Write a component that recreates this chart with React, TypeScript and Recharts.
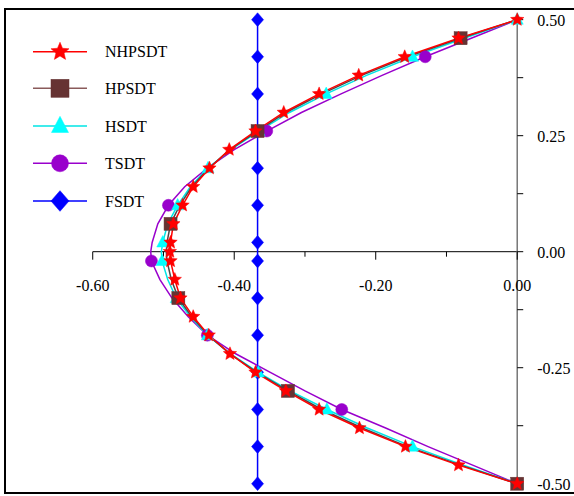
import React from 'react';
import {
  ScatterChart,
  Scatter,
  XAxis,
  YAxis,
  ReferenceLine,
  ReferenceDot,
  ReferenceArea,
} from 'recharts';

// thickness coordinate (vertical axis)
const Z = [
  0.5, 0.46, 0.42, 0.38, 0.34, 0.3, 0.26, 0.22, 0.18, 0.14, 0.1, 0.06, 0.02, 0,
  -0.02, -0.06, -0.1, -0.14, -0.18, -0.22, -0.26, -0.3, -0.34, -0.38, -0.42, -0.46, -0.5,
];

const NHPSDT = [
  0, -0.083, -0.159, -0.224, -0.28, -0.33, -0.37, -0.407, -0.435, -0.458, -0.473, -0.486, -0.49, -0.491,
  -0.49, -0.484, -0.476, -0.458, -0.436, -0.406, -0.37, -0.327, -0.28, -0.223, -0.158, -0.083, 0,
];
const HPSDT = [
  0, -0.08, -0.155, -0.22, -0.276, -0.327, -0.367, -0.406, -0.436, -0.46, -0.477, -0.49, -0.495, -0.496,
  -0.495, -0.489, -0.479, -0.46, -0.437, -0.406, -0.368, -0.324, -0.276, -0.219, -0.155, -0.08, 0,
];
const HSDT = [
  0, -0.075, -0.148, -0.213, -0.27, -0.322, -0.365, -0.405, -0.437, -0.462, -0.48, -0.494, -0.501, -0.503,
  -0.502, -0.494, -0.482, -0.462, -0.438, -0.405, -0.366, -0.321, -0.269, -0.212, -0.148, -0.076, 0,
];
const TSDT = [
  0, -0.065, -0.13, -0.191, -0.249, -0.305, -0.354, -0.4, -0.438, -0.47, -0.493, -0.508, -0.516, -0.518,
  -0.517, -0.505, -0.488, -0.465, -0.438, -0.398, -0.349, -0.3, -0.248, -0.186, -0.126, -0.063, 0,
];
const FSDT = [
  -0.367, -0.367, -0.367, -0.367, -0.367, -0.367, -0.367, -0.367, -0.367, -0.367, -0.367, -0.367, -0.367, -0.367,
  -0.367, -0.367, -0.367, -0.367, -0.367, -0.367, -0.367, -0.367, -0.367, -0.367, -0.367, -0.367, -0.367,
];

// indices of data points that carry a marker
const NHPSDT_MARKS = [0, 1, 2, 3, 4, 5, 6, 7, 8, 9, 10, 11, 12, 13, 14, 15, 16, 17, 18, 19, 20, 21, 22, 23, 24, 25, 26];
const HPSDT_MARKS = [1, 6, 11, 16, 21, 26];
const HSDT_MARKS = [0, 2, 4, 6, 8, 10, 12, 14, 16, 18, 20, 22, 24, 26];
const TSDT_MARKS = [2, 6, 10, 14, 18, 22];
const FSDT_MARKS = [0, 2, 4, 6, 8, 10, 12, 14, 16, 18, 20, 22, 24, 26];

const X_TICKS = [-0.6, -0.4, -0.2, 0];
const X_TICK_LABELS = ['-0.60', '-0.40', '-0.20', '0.00'];
const X_MINOR = [-0.5, -0.3, -0.1];
const Y_TICKS = [0.5, 0.25, 0, -0.25, -0.5];
const Y_TICK_LABELS = ['0.50', '0.25', '0.00', '-0.25', '-0.50'];
const Y_MINOR = [0.375, 0.125, -0.125, -0.375];

const X_DOMAIN: [number, number] = [-0.724, 0.117];
const Y_DOMAIN: [number, number] = [-0.52, 0.523];

const FONT = "'Liberation Serif', 'Times New Roman', Times, serif";
const TEXT_STYLE = { fontFamily: FONT, fontSize: 16 };

type Kind = 'star' | 'square' | 'triangle' | 'circle' | 'diamond';

const SERIES: { name: string; values: number[]; marks: number[]; color: string; line: string; kind: Kind }[] = [
  { name: 'FSDT', values: FSDT, marks: FSDT_MARKS, color: '#0000FF', line: '#0000FF', kind: 'diamond' },
  { name: 'TSDT', values: TSDT, marks: TSDT_MARKS, color: '#9900CC', line: '#9900CC', kind: 'circle' },
  { name: 'HSDT', values: HSDT, marks: HSDT_MARKS, color: '#00FFFF', line: '#00E5E5', kind: 'triangle' },
  { name: 'HPSDT', values: HPSDT, marks: HPSDT_MARKS, color: '#663333', line: '#4a4a4a', kind: 'square' },
  { name: 'NHPSDT', values: NHPSDT, marks: NHPSDT_MARKS, color: '#FF0000', line: '#FF0000', kind: 'star' },
];

const LEGEND_ORDER = ['NHPSDT', 'HPSDT', 'HSDT', 'TSDT', 'FSDT'];

function Marker({ kind, cx, cy, color, size }: { kind: Kind; cx: number; cy: number; color: string; size: number }) {
  if (cx == null || cy == null || isNaN(cx) || isNaN(cy)) return <g />;
  if (kind === 'star') {
    const R = size / 2;
    const r = R * 0.45;
    const pts: string[] = [];
    for (let k = 0; k < 10; k++) {
      const a = -Math.PI / 2 + (k * Math.PI) / 5;
      const rad = k % 2 === 0 ? R : r;
      pts.push(`${cx + rad * Math.cos(a)},${cy + rad * Math.sin(a)}`);
    }
    return <polygon points={pts.join(' ')} fill={color} stroke={color} strokeWidth={0.5} />;
  }
  if (kind === 'square') {
    return <rect x={cx - size / 2} y={cy - size / 2} width={size} height={size} fill={color} stroke={color} strokeWidth={0.5} />;
  }
  if (kind === 'triangle') {
    const h = size * 0.95;
    return (
      <polygon
        points={`${cx},${cy - h * 0.6} ${cx - size / 2},${cy + h * 0.4} ${cx + size / 2},${cy + h * 0.4}`}
        fill={color}
        stroke={color}
        strokeWidth={0.5}
      />
    );
  }
  if (kind === 'circle') {
    return <circle cx={cx} cy={cy} r={size / 2} fill={color} stroke={color} strokeWidth={0.5} />;
  }
  const w = size / 2;
  const h = (size * 1.15) / 2;
  return (
    <polygon
      points={`${cx},${cy - h} ${cx + w},${cy} ${cx},${cy + h} ${cx - w},${cy}`}
      fill={color}
      stroke={color}
      strokeWidth={0.5}
    />
  );
}

const LEGEND_ROWS_Y = [51.7, 88.3, 126, 163.3, 201];

function LegendBox() {
  return (
    <svg width={574} height={496} style={{ position: 'absolute', left: 0, top: 0, pointerEvents: 'none' }}>
      {LEGEND_ORDER.map((name, i) => {
        const s = SERIES.find((q) => q.name === name)!;
        const y = LEGEND_ROWS_Y[i];
        const size = s.kind === 'circle' ? 17 : s.kind === 'star' ? 19 : s.kind === 'triangle' ? 17 : 18;
        return (
          <g key={name}>
            <line x1={33} x2={87} y1={y} y2={y} stroke={s.kind === 'square' ? '#8a5a5a' : s.line} strokeWidth={1.5} />
            <Marker kind={s.kind} cx={60} cy={y} color={s.color} size={size} />
            <text x={105} y={y + 5.5} style={TEXT_STYLE} fill="#000">
              {name}
            </text>
          </g>
        );
      })}
    </svg>
  );
}

export default function App() {
  return (
    <div style={{ position: 'absolute', left: 0, top: 0, width: 574, height: 496, overflow: 'hidden', background: '#fff' }}>
      <ScatterChart width={600} height={496} margin={{ top: 9, left: 5, right: 0, bottom: 3 }}>
        <XAxis type="number" dataKey="x" domain={X_DOMAIN} allowDataOverflow hide />
        <YAxis type="number" dataKey="z" domain={Y_DOMAIN} allowDataOverflow hide />
        <ReferenceArea
          x1={X_DOMAIN[0]}
          x2={X_DOMAIN[1]}
          y1={Y_DOMAIN[0]}
          y2={Y_DOMAIN[1]}
          fill="none"
          fillOpacity={0}
          stroke="#000"
          strokeWidth={2}
        />
        <ReferenceLine
          segment={[
            { x: X_TICKS[0], y: 0 },
            { x: 0, y: 0 },
          ]}
          stroke="#000"
          strokeWidth={1}
        />
        <ReferenceLine
          segment={[
            { x: 0, y: Y_TICKS[Y_TICKS.length - 1] },
            { x: 0, y: Y_TICKS[0] },
          ]}
          stroke="#777"
          strokeWidth={1.5}
        />
        {X_TICKS.map((t, i) => (
          <ReferenceDot
            key={`xt${i}`}
            x={t}
            y={0}
            r={0}
            shape={(p: any) => (
              <g>
                <line x1={p.cx} x2={p.cx} y1={p.cy} y2={p.cy + 8} stroke="#000" strokeWidth={1} />
                <text x={p.cx} y={p.cy + 39.5} textAnchor="middle" style={TEXT_STYLE} fill="#000">
                  {X_TICK_LABELS[i]}
                </text>
              </g>
            )}
          />
        ))}
        {X_MINOR.map((t, i) => (
          <ReferenceDot
            key={`xm${i}`}
            x={t}
            y={0}
            r={0}
            shape={(p: any) => <line x1={p.cx} x2={p.cx} y1={p.cy} y2={p.cy + 5} stroke="#000" strokeWidth={1} />}
          />
        ))}
        {Y_TICKS.map((t, i) => (
          <ReferenceDot
            key={`yt${i}`}
            x={0}
            y={t}
            r={0}
            shape={(p: any) => (
              <g>
                <line x1={p.cx} x2={p.cx + 6} y1={p.cy} y2={p.cy} stroke="#000" strokeWidth={1} />
                <text x={p.cx + 20} y={p.cy + 6} textAnchor="start" style={TEXT_STYLE} fill="#000">
                  {Y_TICK_LABELS[i]}
                </text>
              </g>
            )}
          />
        ))}
        {Y_MINOR.map((t, i) => (
          <ReferenceDot
            key={`ym${i}`}
            x={0}
            y={t}
            r={0}
            shape={(p: any) => <line x1={p.cx} x2={p.cx + 6} y1={p.cy} y2={p.cy} stroke="#000" strokeWidth={1} />}
          />
        ))}
        {SERIES.map((s) => {
          const pts = s.values.map((v, i) => ({ x: v, z: Z[i] }));
          return (
            <Scatter
              key={`${s.name}-line`}
              name={`${s.name}-line`}
              data={pts}
              fill={s.line}
              line={{ stroke: s.line, strokeWidth: 1.5 }}
              lineType="joint"
              shape={() => <g />}
              isAnimationActive={false}
            />
          );
        })}
        {SERIES.map((s) => {
          const pts = s.marks.map((i) => ({ x: s.values[i], z: Z[i] }));
          const size = s.kind === 'star' ? 14 : s.kind === 'square' ? 13 : 12;
          return (
            <Scatter
              key={`${s.name}-marks`}
              name={s.name}
              data={pts}
              fill={s.color}
              shape={(p: any) => <Marker kind={s.kind} cx={p.cx} cy={p.cy} color={s.color} size={size} />}
              isAnimationActive={false}
            />
          );
        })}
      </ScatterChart>
      <LegendBox />
    </div>
  );
}
